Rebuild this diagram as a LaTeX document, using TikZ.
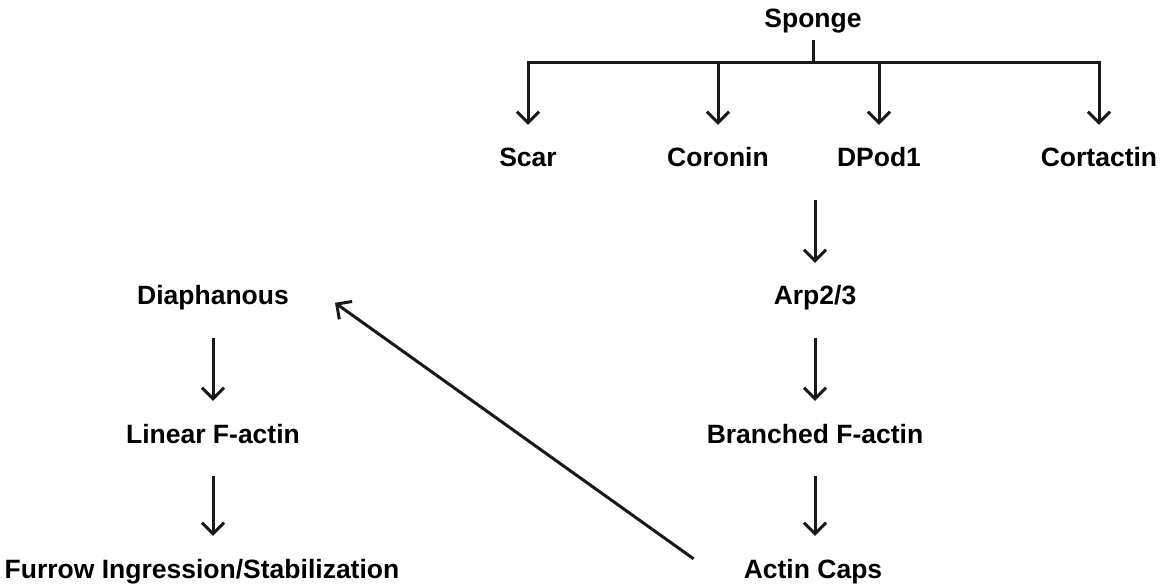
\documentclass[tikz,border=0pt]{standalone}
\usepackage{fontspec}
\setmainfont{Liberation Sans}
\usetikzlibrary{arrows.meta,calc}
\begin{document}
\begin{tikzpicture}[x=1pt,y=-1pt,
  lbl/.style={inner sep=0pt,text height=19pt,text depth=0pt,anchor=base,font=\fontsize{26.5}{30}\selectfont\bfseries},
  ln/.style={line width=3pt,draw=black!90},
  arr/.style={ln,-{Straight Barb[length=11pt,width=22pt]}},
  vstep/.style={arr,shorten <=33pt,shorten >=23pt}]
\useasboundingbox (0,0) rectangle (1173,588);
% nodes
\node[lbl] (sponge) at (813,28) {Sponge};
\node[lbl] (scar) at (528,167) {Scar};
\node[lbl] (coronin) at (718,167) {Coronin};
\node[lbl] (dpod) at (879,167) {DPod1};
\node[lbl] (cortactin) at (1099,167) {Cortactin};
\node[lbl] (arp) at (815,305) {Arp2/3};
\node[lbl] (branched) at (815,443) {Branched F-actin};
\node[lbl] (caps) at (813,578) {Actin Caps};
\node[lbl] (dia) at (213,305) {Diaphanous};
\node[lbl] (linear) at (213,443) {Linear F-actin};
\node[lbl] (furrow) at (202,578) {Furrow Ingression/Stabilization};
% bracket
\coordinate (j) at (813,63);
\draw[ln,shorten <=12pt] (sponge.south) -- (j);
\draw[arr,shorten >=23pt] (j) -| (scar.north);
\draw[arr,shorten >=23pt] (j) -| (coronin.north);
\draw[arr,shorten >=23pt] (j) -| (dpod.north);
\draw[arr,shorten >=23pt] (j) -| (cortactin.north);
% right column
\draw[vstep] (dpod.south -| arp.north) -- (arp.north);
\draw[vstep] (arp.south) -- (branched.north);
\draw[vstep] (branched.south) -- (caps.north -| branched.south);
% left column
\draw[vstep] (dia.south) -- (linear.north);
\draw[vstep] (linear.south) -- (linear.south |- furrow.north);
% diagonal
\draw[arr] ([xshift=-50pt]caps.north west) -- ([shift={(46pt,-17pt)}]dia.north east);
\end{tikzpicture}
\end{document}
